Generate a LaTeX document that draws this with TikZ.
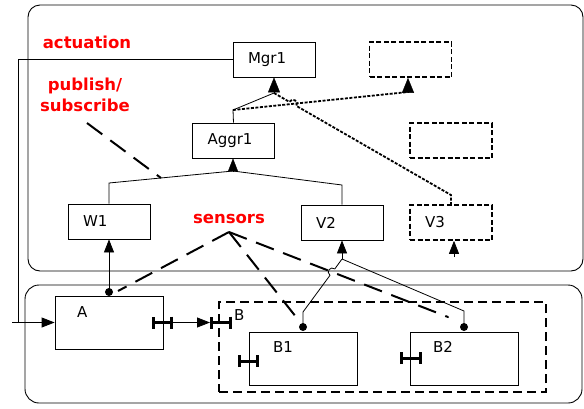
\documentclass[tikz,border=0pt]{standalone}
\usepackage{fontspec}
\setmainfont{DejaVu Sans}
\usetikzlibrary{arrows.meta}

\begin{document}
\begin{tikzpicture}[x=1pt,y=-1pt]
  \tikzstyle{box}=[draw, line width=0.8pt, minimum width=82pt, minimum height=35pt, inner xsep=15pt, text width=52pt, align=left, font=\fontsize{15}{18}\selectfont]
  \tikzstyle{dbox}=[box, line width=1.6pt, dash pattern=on 5pt off 2.5pt]
  \tikzstyle{comp}=[draw, line width=0.8pt, minimum width=108pt, minimum height=53pt]
  \tikzstyle{txt}=[inner sep=0pt, anchor=west, font=\fontsize{15}{18}\selectfont]
  \tikzstyle{redlbl}=[text=red, inner sep=0pt, align=center, font=\fontsize{16.5}{21}\selectfont\bfseries]
  \tikzstyle{tri}=[-{Triangle[length=13pt,width=10pt]}]
  \tikzstyle{dotline}=[line width=1.8pt, dash pattern=on 3pt off 1.5pt]
  \tikzstyle{bigdash}=[line width=2pt, dash pattern=on 19pt off 10pt]
  \tikzstyle{port}=[line width=3pt, {Bar[width=12pt]}-{Bar[width=12pt]}]
  \useasboundingbox (0,0) rectangle (584,408);

  % frames
  \draw[line width=0.9pt, rounded corners=12pt] (28,5) rectangle (583,271);
  \draw[line width=0.9pt, rounded corners=14pt] (25,285) rectangle (582,403);

  % upper boxes
  \node[box] (mgr) at (274,59.5) {Mgr1};
  \node[dbox] (top) at (410.5,59.5) {};
  \node[dbox] (mid) at (451,140.5) {};
  \node[box] (aggr) at (233.5,140.5) {Aggr1};
  \node[box] (w1) at (109,221.5) {W1};
  \node[box] (v2) at (342,222.5) {V2};
  \node[dbox] (v3) at (451,222.5) {V3};

  % lower boxes
  \node[draw, line width=2pt, dash pattern=on 9pt off 5pt, minimum width=327pt, minimum height=90pt] (b) at (382.5,347) {};
  \node[comp] (a) at (109,322.5) {};
  \node[comp] (b1) at (303,358.5) {};
  \node[comp] (b2) at (464,358.5) {};
  \node[txt] (a-t) at (77,312) {A};
  \node[txt] (b-t) at (234,315) {B};
  \node[txt] (b1-t) at (273,347) {B1};
  \node[txt] (b2-t) at (433,347) {B2};

  % labels
  \node[redlbl] (act) at (87,42) {actuation};
  \node[redlbl] (pub) at (85,95) {publish/\\subscribe};
  \node[redlbl] (sens) at (229,219) {sensors};

  % Aggr1 -> Mgr1
  \coordinate (j1) at (233,110);
  \coordinate (j2) at (274,93);
  \draw[line width=0.8pt] (aggr.north) -- (j1) -- (j2);
  \draw[-{Triangle[length=15pt,width=12pt]}] (j2) -- (j2 |- mgr.south);
  \coordinate (k1) at (408,92);
  \draw[dotline] (j1) -- (k1);
  \draw[-{Triangle[length=15pt,width=12pt]}] (k1) -- (k1 |- top.south);
  \coordinate (k2) at (451,195);
  \draw[dotline] (j2) -- (289.4,101.9) .. controls (292.1,97.1) and (299.1,101.1) .. (296.4,105.9) -- (k2) -- (v3.north);

  % W1, V2 -> Aggr1
  \coordinate (j3) at (233,171);
  \draw[line width=0.8pt] (w1.north) -- (109,183) -- (j3) -- (342,185) -- (v2.north);
  \draw[tri] (j3) -- (j3 |- aggr.south);
  \coordinate (ps1) at (87,123);
  \coordinate (ps2) at (161,178);
  \draw[bigdash] (ps1) -- (ps2);

  % actuation
  \coordinate (ac1) at (18,59.5);
  \coordinate (ac2) at (18,322.5);
  \coordinate (ac3) at (12,322.5);
  \draw[line width=0.8pt] (mgr.west) -- (ac1) -- (ac2);
  \draw[tri, line width=0.8pt] (ac3) -- (a.west);

  % A -> W1
  \coordinate (ad) at (109,292);
  \fill (ad) circle (4);
  \draw[tri, line width=0.8pt] (ad) -- (w1.south);

  % B1, B2 -> V2
  \coordinate (j4) at (342,259);
  \coordinate (b1d) at (303,327);
  \coordinate (b2d) at (464,327);
  \draw[tri, line width=0.8pt] (j4) -- (v2.south);
  \draw[line width=0.8pt] (j4) -- (334.8,268.9) .. controls (330.4,265.6) and (325.6,272.0) .. (330.0,275.3) -- (303,312) -- (b1d);
  \draw[line width=0.8pt] (j4) -- (464,311) -- (b2d);
  \fill (b1d) circle (4);
  \fill (b2d) circle (4);

  % V3 input
  \coordinate (v3in) at (454,257);
  \draw[tri, line width=0.8pt] (v3in) -- (v3in |- v3.south);

  % sensors
  \coordinate (s0) at (229,232);
  \coordinate (s3) at (448,317);
  \draw[bigdash] (s0) -- (118,291);
  \draw[bigdash] (s0) -- (300,322);
  \draw[bigdash] (s0) -- (s3);
  \fill (s3) circle (1);

  % ports
  \coordinate (pa1) at (152,322.5);
  \coordinate (pa2) at (173,322.5);
  \coordinate (pb1) at (210,322.5);
  \coordinate (pb2) at (232,322.5);
  \draw[port] (pa1) -- (pa2);
  \draw[tri, line width=0.8pt] (pa2) -- (pb1);
  \draw[port] (pb1) -- (pb2);
  \draw[port] (238,361) -- (259,361);
  \draw[port] (400,358) -- (422,358);
\end{tikzpicture}
\end{document}
